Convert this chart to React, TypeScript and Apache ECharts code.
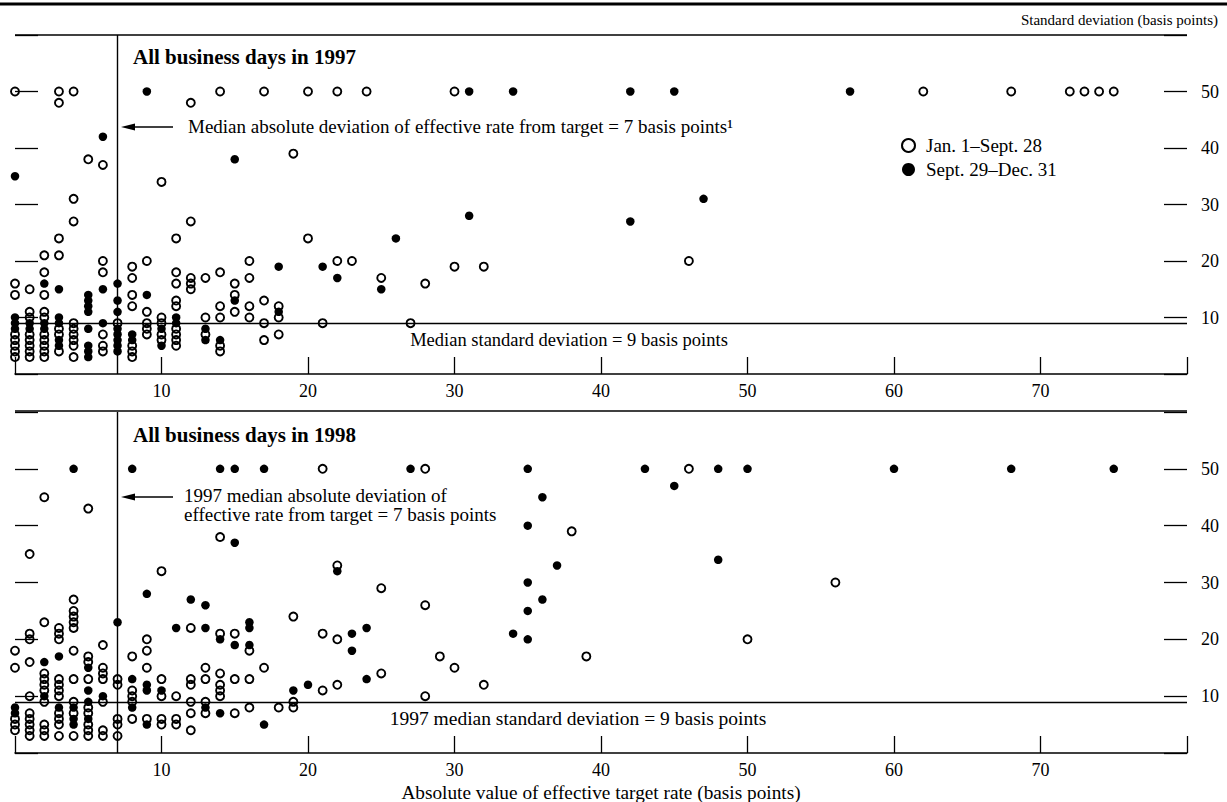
import { useEffect, useRef } from "react";
import * as echarts from "echarts";

// ---------- DATA ----------
// [absolute value of effective - target rate, standard deviation] (values >= 50 plotted at 50)
const open1997: number[][] = [
  [0, 50], [0, 16], [0, 14], [0, 7], [0, 6], [0, 5], [0, 4], [0, 3],
  [1, 15], [1, 11], [1, 10], [1, 7], [1, 6], [1, 5], [1, 4], [1, 3],
  [2, 21], [2, 18], [2, 14], [2, 11], [2, 10], [2, 7], [2, 6], [2, 5], [2, 4], [2, 3],
  [3, 50], [3, 48], [3, 24], [3, 21], [3, 8], [3, 7], [3, 4],
  [4, 50], [4, 31], [4, 27], [4, 9], [4, 8], [4, 7], [4, 6], [4, 5], [4, 3],
  [5, 38],
  [6, 37], [6, 20], [6, 18], [6, 7], [6, 5], [6, 4],
  [7, 9],
  [8, 19], [8, 17], [8, 14], [8, 12], [8, 5], [8, 4], [8, 3],
  [9, 20], [9, 11], [9, 9], [9, 8], [9, 7],
  [10, 34], [10, 10], [10, 9], [10, 7], [10, 6],
  [11, 24], [11, 18], [11, 16], [11, 13], [11, 12], [11, 8], [11, 7], [11, 6], [11, 5],
  [12, 48], [12, 27], [12, 17], [12, 16], [12, 15],
  [13, 17], [13, 10], [13, 7],
  [14, 50], [14, 18], [14, 12], [14, 10], [14, 5], [14, 4],
  [15, 16], [15, 14], [15, 11],
  [16, 20], [16, 17], [16, 12], [16, 10],
  [17, 50], [17, 13], [17, 9], [17, 6],
  [18, 12], [18, 10], [18, 7],
  [19, 39], [20, 50], [20, 24], [21, 9], [22, 50], [22, 20], [23, 20], [24, 50],
  [25, 17], [27, 9], [28, 16], [30, 50], [30, 19], [32, 19], [46, 20],
  [62, 50], [68, 50], [72, 50], [73, 50], [74, 50], [75, 50],
];

const filled1997: number[][] = [
  [0, 35], [0, 10], [0, 9], [0, 8],
  [1, 9], [1, 8],
  [2, 16], [2, 9], [2, 8],
  [3, 15], [3, 10], [3, 9], [3, 6], [3, 5],
  [5, 14], [5, 13], [5, 12], [5, 11], [5, 8], [5, 5], [5, 4], [5, 3],
  [6, 42], [6, 15], [6, 9],
  [7, 16], [7, 13], [7, 11], [7, 8], [7, 7], [7, 6], [7, 5], [7, 4],
  [8, 7], [8, 6],
  [9, 50], [9, 14],
  [10, 8], [10, 5],
  [11, 10], [11, 9],
  [13, 8], [13, 6],
  [14, 6],
  [15, 38], [15, 13],
  [18, 19], [18, 11],
  [21, 19], [22, 17], [25, 15], [26, 24],
  [31, 50], [31, 28], [34, 50], [42, 50], [42, 27], [45, 50], [47, 31], [57, 50],
];

const open1998: number[][] = [
  [0, 18], [0, 15], [0, 6], [0, 5], [0, 4],
  [1, 35], [1, 21], [1, 20], [1, 16], [1, 10], [1, 7], [1, 6], [1, 5], [1, 4], [1, 3],
  [2, 45], [2, 23], [2, 14], [2, 13], [2, 12], [2, 11], [2, 9], [2, 5], [2, 4], [2, 3],
  [3, 22], [3, 21], [3, 20], [3, 13], [3, 12], [3, 11], [3, 10], [3, 7], [3, 6], [3, 5], [3, 3],
  [4, 27], [4, 25], [4, 24], [4, 23], [4, 22], [4, 18], [4, 13], [4, 9], [4, 7], [4, 3],
  [5, 43], [5, 17], [5, 16], [5, 13], [5, 8], [5, 7], [5, 5], [5, 4], [5, 3],
  [6, 19], [6, 15], [6, 14], [6, 13], [6, 9], [6, 4], [6, 3],
  [7, 13], [7, 12], [7, 6], [7, 5], [7, 3],
  [8, 17], [8, 11], [8, 10], [8, 9], [8, 6],
  [9, 20], [9, 18], [9, 15], [9, 6],
  [10, 32], [10, 13], [10, 10], [10, 6], [10, 5],
  [11, 10], [11, 6], [11, 5],
  [12, 22], [12, 13], [12, 12], [12, 9], [12, 7], [12, 4],
  [13, 15], [13, 13], [13, 9], [13, 7],
  [14, 38], [14, 21], [14, 14], [14, 12], [14, 11], [14, 10],
  [15, 21], [15, 13], [15, 7],
  [16, 18], [16, 13], [16, 8],
  [17, 15], [18, 8], [19, 24], [19, 9], [19, 8],
  [21, 50], [21, 21], [21, 11], [22, 33], [22, 20], [22, 12],
  [25, 29], [25, 14], [28, 50], [28, 26], [28, 10], [29, 17], [30, 15], [32, 12],
  [38, 39], [39, 17], [46, 50], [50, 20], [56, 30],
];

const filled1998: number[][] = [
  [0, 8], [0, 7],
  [2, 16], [2, 10],
  [3, 17], [3, 8],
  [4, 50], [4, 8], [4, 6], [4, 5],
  [5, 15], [5, 11], [5, 9], [5, 6],
  [6, 10],
  [7, 23],
  [8, 50], [8, 13], [8, 8],
  [9, 28], [9, 12], [9, 11], [9, 5],
  [10, 11], [11, 22], [12, 27],
  [13, 26], [13, 22], [13, 8],
  [14, 50], [14, 20], [14, 7],
  [15, 50], [15, 37], [15, 19],
  [16, 23], [16, 22], [16, 19],
  [17, 50], [17, 5],
  [19, 11], [20, 12], [22, 32], [23, 21], [23, 18], [24, 22], [24, 13],
  [27, 50], [34, 21],
  [35, 50], [35, 40], [35, 30], [35, 25], [35, 20],
  [36, 45], [36, 27], [37, 33], [43, 50], [45, 47], [48, 50], [48, 34], [50, 50],
  [60, 50], [68, 50], [75, 50],
];

const xTickLabels = [10, 20, 30, 40, 50, 60, 70];
const yTickLabels = [10, 20, 30, 40, 50];
const medianAbsDeviation = 7;
const medianStdDeviation = 9;
const seriesNames = ["Jan. 1–Sept. 28", "Sept. 29–Dec. 31"];

// ---------- STYLE ----------
const FONT = "'Liberation Serif', 'Times New Roman', serif";
const BLACK = "#000";

function makeX(gridIndex: number) {
  return {
    type: "value",
    gridIndex,
    min: 0,
    max: 80,
    interval: 10,
    axisLine: { show: true, onZero: false, lineStyle: { color: BLACK, width: 1.5 } },
    axisTick: { show: true, inside: true, length: 17, lineStyle: { color: BLACK, width: 1.3 } },
    axisLabel: {
      margin: 8,
      fontSize: 18,
      color: BLACK,
      fontFamily: FONT,
      formatter: (v: number) => (xTickLabels.includes(v) ? String(v) : ""),
    },
    splitLine: { show: false },
  };
}

function makeY(gridIndex: number, position: "left" | "right") {
  return {
    type: "value",
    gridIndex,
    position,
    min: 0,
    max: 60,
    interval: 10,
    axisLine: { show: false },
    axisTick: { show: true, inside: true, length: 23, lineStyle: { color: BLACK, width: 1.3 } },
    axisLabel: {
      show: position === "right",
      margin: 14,
      fontSize: 18,
      color: BLACK,
      fontFamily: FONT,
      formatter: (v: number) => (yTickLabels.includes(v) ? String(v) : ""),
    },
    splitLine: { show: false },
  };
}

const medianLines = {
  symbol: ["none", "none"],
  silent: true,
  label: { show: false },
  lineStyle: { color: BLACK, width: 1.4, type: "solid", opacity: 1 },
  data: [{ xAxis: medianAbsDeviation }, { yAxis: medianStdDeviation }],
};

function openSeries(data: number[][], idx: number) {
  return {
    type: "scatter",
    name: seriesNames[0],
    xAxisIndex: idx,
    yAxisIndex: idx * 2 + 1,
    data,
    symbol: "circle",
    symbolSize: 8,
    itemStyle: { color: "rgba(255,255,255,0)", borderColor: BLACK, borderWidth: 1.9, opacity: 1 },
    markLine: medianLines,
    silent: true,
  };
}

function filledSeries(data: number[][], idx: number) {
  return {
    type: "scatter",
    name: seriesNames[1],
    xAxisIndex: idx,
    yAxisIndex: idx * 2 + 1,
    data,
    symbol: "circle",
    symbolSize: 8.5,
    itemStyle: { color: BLACK, opacity: 1 },
    silent: true,
  };
}

function txt(text: string, x: number, y: number, size: number, align = "left", bold = false) {
  return {
    type: "text",
    x,
    y,
    silent: true,
    style: {
      text,
      fill: BLACK,
      font: `${bold ? "bold " : ""}${size}px ${FONT}`,
      textAlign: align,
      textVerticalAlign: "middle",
    },
  };
}

function hline(x1: number, x2: number, y: number, w: number) {
  return { type: "line", silent: true, shape: { x1, y1: y, x2, y2: y }, style: { stroke: BLACK, lineWidth: w } };
}

function arrow(y: number) {
  return [
    hline(132, 173, y, 1.4),
    {
      type: "polygon",
      silent: true,
      shape: { points: [[121, y], [135, y - 3.5], [135, y + 3.5]] },
      style: { fill: BLACK },
    },
  ];
}

const option = {
  animation: false,
  backgroundColor: "#fff",
  grid: [
    { left: 15, top: 35, width: 1172, height: 339 },
    { left: 15, top: 412, width: 1172, height: 341 },
  ],
  xAxis: [makeX(0), makeX(1)],
  yAxis: [makeY(0, "left"), makeY(0, "right"), makeY(1, "left"), makeY(1, "right")],
  legend: {
    show: true,
    selectedMode: false,
    orient: "vertical",
    left: 896,
    top: 131,
    itemWidth: 13,
    itemHeight: 13,
    itemGap: 5,
    data: seriesNames,
    textStyle: { fontFamily: FONT, fontSize: 19, color: BLACK, padding: [0, 0, 0, 6] },
  },
  series: [
    openSeries(open1997, 0),
    filledSeries(filled1997, 0),
    openSeries(open1998, 1),
    filledSeries(filled1998, 1),
  ],
  graphic: [
    hline(0, 1227, 4, 3),
    hline(15, 1187, 35, 1.5),
    hline(15, 1187, 411, 1.5),
    txt("Standard deviation (basis points)", 1218, 20, 15, "right"),
    txt("All business days in 1997", 133, 57, 21, "left", true),
    txt("All business days in 1998", 133, 435, 21, "left", true),
    txt("Median absolute deviation of effective rate from target = 7 basis points¹", 188, 126, 19),
    ...arrow(127),
    txt("Median standard deviation = 9 basis points", 569, 340, 18.5, "center"),
    txt("1997 median absolute deviation of", 184, 495, 19),
    txt("effective rate from target = 7 basis points", 184, 514, 19),
    ...arrow(497),
    txt("1997 median standard deviation = 9 basis points", 578, 718, 19.5, "center"),
    txt("Absolute value of effective target rate (basis points)", 601, 792, 19.3, "center"),
  ],
};

export default function App() {
  const ref = useRef<HTMLDivElement>(null);
  useEffect(() => {
    if (!ref.current) return;
    const chart = echarts.init(ref.current, null, { renderer: "svg" });
    chart.setOption(option as any);
    return () => chart.dispose();
  }, []);
  return (
    <div
      ref={ref}
      style={{ position: "absolute", left: 0, top: 0, width: 1227, height: 802, background: "#fff" }}
    />
  );
}
